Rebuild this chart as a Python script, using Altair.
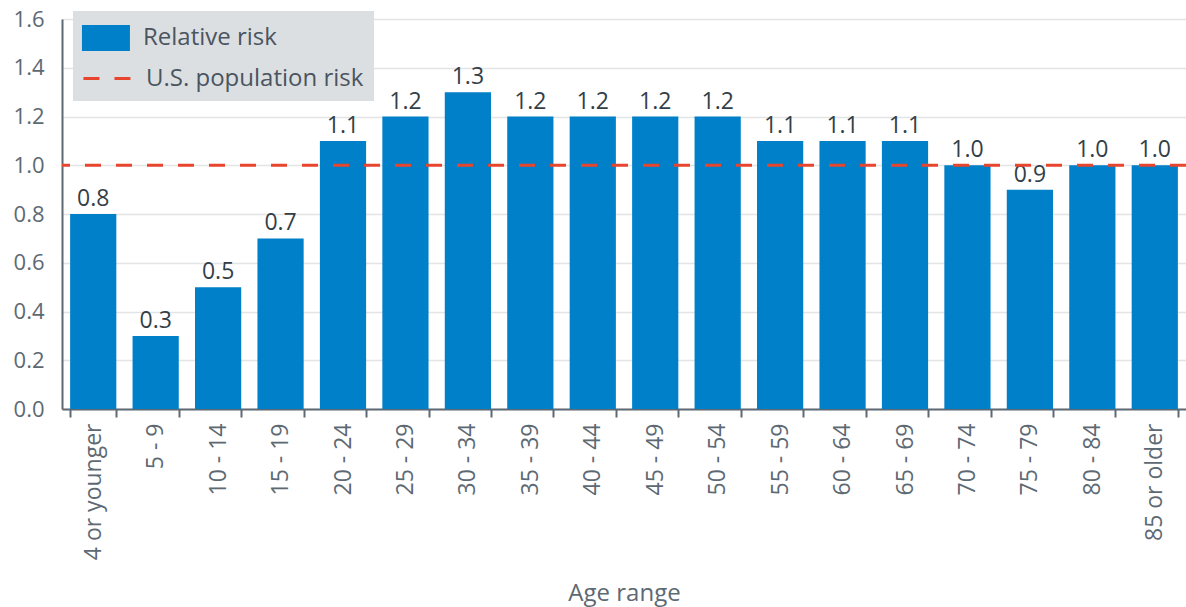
import altair as alt
import pandas as pd

ages = ["4 or younger", "5 - 9", "10 - 14", "15 - 19", "20 - 24", "25 - 29", "30 - 34",
        "35 - 39", "40 - 44", "45 - 49", "50 - 54", "55 - 59", "60 - 64", "65 - 69",
        "70 - 74", "75 - 79", "80 - 84", "85 or older"]
risk = [0.8, 0.3, 0.5, 0.7, 1.1, 1.2, 1.3, 1.2, 1.2, 1.2, 1.2, 1.1, 1.1, 1.1, 1.0, 0.9, 1.0, 1.0]
bar_series = "Relative risk"
ref_series = "U.S. population risk"
us_risk = [1.0]
y_ticks = [0, 0.2, 0.4, 0.6, 0.8, 1.0, 1.2, 1.4, 1.6]

BLUE = "#0080c9"
RED = "#e8452f"
TEXT = "#4a5560"
AXIS = "#5d6973"
LEGEND_BG = "#dcdfe2"
FW = 400

df = pd.DataFrame({"age": ages, "risk": risk, "series": bar_series})
ref = pd.DataFrame({"ref": us_risk, "series": ref_series})

color = alt.Color(
    "series:N",
    scale=alt.Scale(domain=[bar_series], range=[BLUE]),
    legend=alt.Legend(
        title=None, orient="none", legendX=11, legendY=-6, zindex=2,
        padding=10, labelFontSize=24, labelFontWeight=FW, labelColor=TEXT,
        labelOffset=30, labelLimit=400, symbolSize=900,
        symbolType="M-1.07,-0.87H2.13V0.87H-1.07Z", symbolStrokeWidth=0,
    ),
)

dash = alt.StrokeDash(
    "series:N",
    scale=alt.Scale(domain=[ref_series], range=[[16, 15]]),
    legend=alt.Legend(
        title="\u00a0", titleColor="transparent", titleFontSize=23, titlePadding=18,
        orient="none", legendX=11, legendY=-8, zindex=1,
        fillColor=LEGEND_BG, padding=10, labelFontSize=24, labelFontWeight=FW,
        labelColor=TEXT, labelOffset=30, labelLimit=400, symbolSize=900,
        symbolType="M-1.07,0H2.13",
        symbolStrokeColor=RED, symbolStrokeWidth=3, symbolDash=[11, 7],
    ),
)

x = alt.X(
    "age:N", sort=ages,
    scale=alt.Scale(paddingInner=0.26, paddingOuter=0.13),
    axis=alt.Axis(
        title="Age range", labelAngle=-90, labelFontSize=23, labelFontWeight=FW,
        labelColor=AXIS, labelPadding=6, tickBand="extent", tickSize=8, tickWidth=2,
        tickColor=AXIS, domainWidth=2, domainColor=AXIS, titleFontSize=24,
        titleColor=AXIS, titleFontWeight=FW, titleBaseline="alphabetic", titleY=191,
    ),
)

y = alt.Y(
    "risk:Q",
    scale=alt.Scale(domain=[0, 1.6], nice=False),
    axis=alt.Axis(
        title=None, values=y_ticks, format=".1f",
        labelFontSize=22, labelFontWeight=FW, labelColor=AXIS, ticks=False,
        labelPadding=18, domainWidth=2, domainColor=AXIS,
        gridColor="#e2e4e6", gridWidth=1.5,
    ),
)

bars = alt.Chart(df).mark_bar().encode(x=x, y=y, color=color)

labels = alt.Chart(df).mark_text(
    baseline="bottom", dy=-3, fontSize=23, fontWeight=FW, color="#333f48"
).encode(x=alt.X("age:N", sort=ages), y="risk:Q", text=alt.Text("risk:Q", format=".1f"))

rule = alt.Chart(ref).mark_rule(strokeWidth=3, color=RED).encode(
    y="ref:Q", strokeDash=dash
)

chart = alt.layer(bars, labels, rule).properties(
    width=1124, height=390,
    autosize=alt.AutoSizeParams(type="none"),
    padding={"left": 62, "top": 19, "right": 0, "bottom": 198},
).configure(font="Open Sans").configure_view(stroke=None)

chart.save("out.html", embed_options={"renderer": "svg", "actions": False})
